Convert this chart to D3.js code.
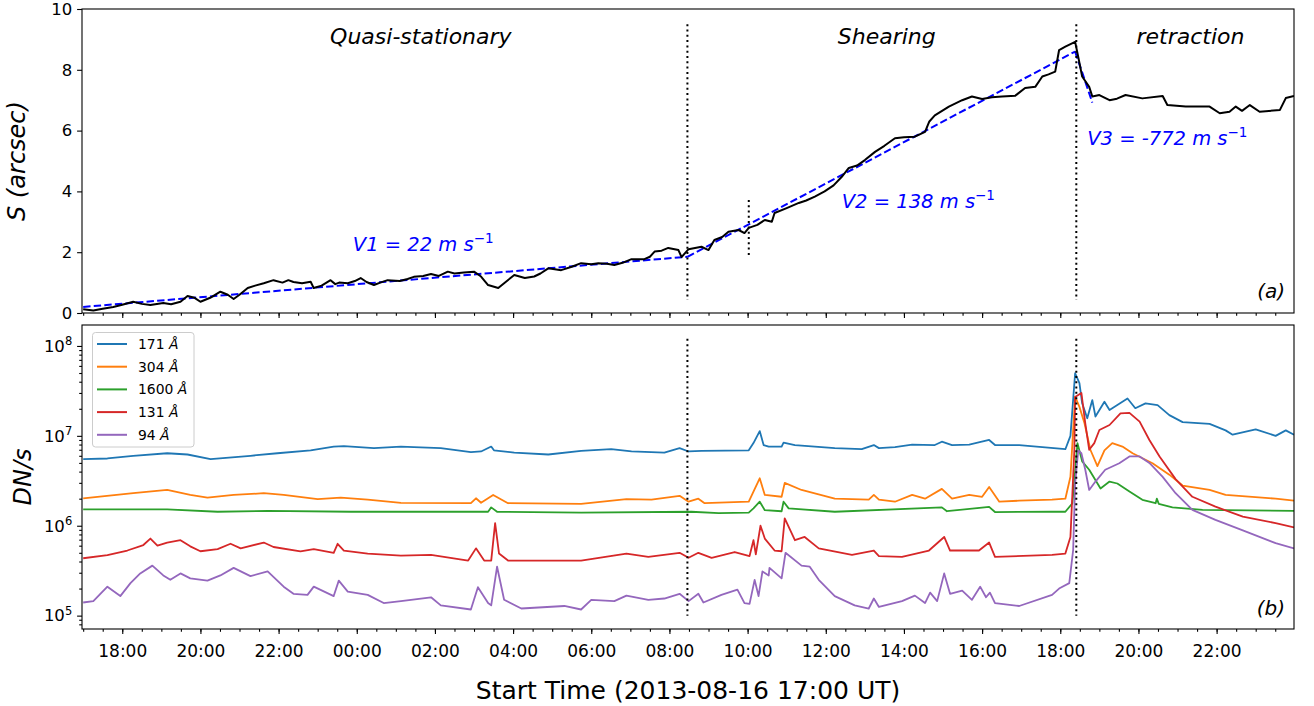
<!DOCTYPE html>
<html>
<head>
<meta charset="utf-8">
<title>Distance and light curves</title>
<style>
  body { margin: 0; background: white; }
  text { font-family: "DejaVu Sans", sans-serif; fill: black; }
  .frame { fill: none; stroke: black; stroke-width: 1.1; }
  .axis path { display: none; }
  .axis line { stroke: black; stroke-width: 1.1; }
  .axis text { font-size: 16.5px; fill: black; font-family: "DejaVu Sans", sans-serif; }
  .xaxis text { font-size: 17px; }
  .series { fill: none; stroke-width: 1.8; stroke-linejoin: round; }
  .sline { fill: none; stroke: black; stroke-width: 2; stroke-linejoin: round; }
  .fit { fill: none; stroke: #0000ff; stroke-width: 2; stroke-dasharray: 7.4 3.2; }
  .event { stroke: black; stroke-width: 2; stroke-dasharray: 2 3.3; }
  .phase { font-size: 22px; font-style: italic; text-anchor: middle; }
  .vel { font-size: 19.5px; font-style: italic; fill: #0000ff; }
  .tag { font-size: 20px; font-style: italic; text-anchor: end; }
  .ylabel { font-size: 24px; font-style: italic; text-anchor: middle; }
  .xlabel { font-size: 25px; text-anchor: middle; }
  .legend text { font-size: 13.9px; }
</style>
<script src="https://d3js.org/d3.v7.min.js"></script>
</head>
<body>
<script>
// time is in hours after 2013-08-16 17:00 UT
const startTime = Date.UTC(2013, 7, 16, 17, 0);
const timeSpan = [-0.03, 30.98];

// panel (a): distance S in arcsec
const sTrack = [[0,0.12],[0.26,0.08],[0.5,0.14],[0.77,0.2],[1.0,0.27],[1.28,0.37],[1.5,0.3],[1.72,0.26],[2.05,0.33],[2.25,0.29],[2.49,0.37],[2.67,0.56],[2.85,0.5],[3.0,0.37],[3.25,0.5],[3.51,0.7],[3.7,0.6],[3.85,0.46],[4.0,0.6],[4.21,0.82],[4.4,0.9],[4.62,0.98],[4.87,1.08],[5.1,1.0],[5.25,1.08],[5.38,1.02],[5.6,0.98],[5.82,1.03],[5.9,0.82],[6.1,0.9],[6.33,1.08],[6.45,0.95],[6.55,1.0],[6.77,0.98],[6.95,1.05],[7.1,1.15],[7.25,1.02],[7.44,0.92],[7.6,1.0],[7.79,1.08],[8.1,1.05],[8.3,1.12],[8.46,1.19],[8.7,1.22],[8.9,1.28],[9.1,1.22],[9.33,1.36],[9.5,1.3],[9.74,1.33],[10.0,1.36],[10.18,1.2],[10.36,0.92],[10.62,0.82],[10.77,0.98],[11.03,1.25],[11.3,1.15],[11.54,1.2],[11.7,1.3],[11.9,1.47],[12.23,1.41],[12.5,1.52],[12.74,1.64],[13.0,1.6],[13.18,1.64],[13.4,1.62],[13.59,1.58],[13.8,1.65],[14.03,1.77],[14.36,1.77],[14.5,1.85],[14.62,2.02],[14.8,2.05],[14.97,2.14],[15.23,2.07],[15.31,1.84],[15.49,2.1],[15.82,2.18],[16.0,2.07],[16.15,2.4],[16.35,2.5],[16.51,2.67],[16.77,2.73],[16.92,2.63],[17.03,2.8],[17.25,2.9],[17.44,3.06],[17.62,3.0],[17.69,3.29],[18.0,3.45],[18.31,3.62],[18.5,3.7],[18.72,3.83],[18.97,4.0],[19.2,4.2],[19.41,4.48],[19.59,4.77],[19.8,4.85],[20.0,5.03],[20.26,5.3],[20.5,5.5],[20.77,5.75],[21.0,5.78],[21.28,5.8],[21.54,5.96],[21.65,6.3],[21.79,6.5],[22.15,6.79],[22.49,7.0],[22.74,7.12],[23.0,7.04],[23.25,7.1],[23.51,7.12],[23.85,7.15],[24.1,7.4],[24.36,7.44],[24.54,7.78],[24.7,7.85],[24.87,7.94],[24.97,8.65],[25.13,8.76],[25.38,8.92],[25.44,8.55],[25.56,7.78],[25.74,7.44],[25.82,7.12],[26.0,7.17],[26.26,7.0],[26.45,7.05],[26.67,7.17],[27.1,7.06],[27.62,7.14],[27.74,6.84],[28.21,6.79],[28.82,6.79],[29.08,6.57],[29.33,6.62],[29.49,6.79],[29.65,6.65],[29.85,6.84],[30.1,6.62],[30.62,6.68],[30.77,7.07],[30.98,7.14]];

// linear fits, [hours, S] end points
const fitSegments = [
  [[0, 0.2], [15.46, 1.85]],
  [[15.46, 1.85], [25.38, 8.6]],
  [[25.38, 8.6], [25.82, 6.92]]
];
const velocityLabels = ["V1 = 22 m s", "V2 = 138 m s", "V3 = -772 m s"];
const velocityAnchors = [[6.9, 2.04], [19.41, 3.45], [25.69, 5.53]];
const phaseLabels = ["Quasi-stationary", "Shearing", "retraction"];
const phaseAnchors = [[8.64, 8.85], [20.56, 8.85], [28.33, 8.85]];

// dotted event markers
const eventHours = [15.46, 25.41];
const eventRangeS = [0.43, 9.5];
const eventRangeDN = [1e5, 1.2e8];
const minorEventHour = 17.03;
const minorEventRangeS = [1.81, 3.72];

// panel (b): light curves in DN/s
const channels = ["171", "304", "1600", "131", "94"];
const channelColors = ["#1f77b4", "#ff7f0e", "#2ca02c", "#d62728", "#9467bd"];

const c171 = [[0,5.5e6],[0.62,5.6e6],[1.28,6.0e6],[2.15,6.4e6],[2.67,6.2e6],[3.26,5.5e6],[4.28,6.0e6],[4.97,6.4e6],[5.82,6.9e6],[6.41,7.6e6],[6.67,7.7e6],[7.44,7.3e6],[8.13,7.6e6],[8.46,7.5e6],[9.15,7.3e6],[9.92,6.6e6],[10.18,6.7e6],[10.44,7.6e6],[10.51,6.9e6],[11.03,6.5e6],[11.9,6.2e6],[12.74,6.8e6],[13.51,7.1e6],[14.03,6.7e6],[14.87,6.5e6],[15.26,7.3e6],[15.49,6.7e6],[15.82,6.8e6],[17.03,6.9e6],[17.15,8.3e6],[17.31,1.13e7],[17.41,7.9e6],[17.54,7.6e6],[17.87,7.6e6],[17.92,8.4e6],[18.21,7.9e6],[19.23,7.3e6],[19.92,7.1e6],[20.23,7.9e6],[20.36,7.3e6],[20.77,7.5e6],[21.21,8.0e6],[21.79,7.9e6],[21.97,8.6e6],[22.23,7.9e6],[22.67,8.0e6],[23.18,9.0e6],[23.33,7.9e6],[23.95,7.9e6],[24.54,7.5e6],[25.13,7.1e6],[25.26,1.0e7],[25.38,4.97e7],[25.49,3.85e7],[25.56,2.3e7],[25.69,1.57e7],[25.82,2.5e7],[25.9,1.64e7],[26.13,2.4e7],[26.26,1.94e7],[26.72,2.6e7],[26.92,2.03e7],[27.18,2.3e7],[27.49,2.2e7],[27.79,1.7e7],[28.13,1.42e7],[28.82,1.36e7],[29.23,1.15e7],[29.41,1.03e7],[30.0,1.18e7],[30.51,1.0e7],[30.77,1.15e7],[30.98,1.03e7]];

const c304 = [[0,2.02e6],[1.28,2.3e6],[2.15,2.5e6],[2.74,2.2e6],[3.18,2.05e6],[3.85,2.2e6],[4.62,2.3e6],[5.13,2.2e6],[6.0,1.98e6],[6.59,2.05e6],[7.28,1.95e6],[8.13,1.8e6],[9.92,1.78e6],[10.05,2.02e6],[10.18,1.8e6],[10.49,2.2e6],[10.87,1.78e6],[12.74,1.75e6],[13.9,1.98e6],[14.54,1.95e6],[15.26,2.15e6],[15.49,1.85e6],[15.74,2.0e6],[15.9,1.78e6],[17.03,1.85e6],[17.15,2.4e6],[17.31,3.37e6],[17.44,2.2e6],[17.87,2.1e6],[17.95,3.0e6],[18.38,2.5e6],[19.23,2.0e6],[20.1,1.95e6],[20.23,2.2e6],[20.36,1.95e6],[20.77,1.85e6],[21.21,2.2e6],[21.54,2.0e6],[21.97,2.57e6],[22.23,2.0e6],[22.67,2.2e6],[23.0,2.1e6],[23.18,2.7e6],[23.44,1.85e6],[23.95,1.9e6],[24.79,1.95e6],[25.13,2.0e6],[25.26,3.5e6],[25.38,2.73e7],[25.49,2.1e7],[25.62,1.38e7],[25.77,7.0e6],[25.95,4.6e6],[26.13,6.9e6],[26.33,8.3e6],[26.59,7.6e6],[26.85,6.4e6],[27.36,4.96e6],[27.79,3.7e6],[28.13,2.8e6],[28.82,2.5e6],[29.23,2.2e6],[30.51,2.0e6],[30.98,1.9e6]];

const c1600 = [[0,1.52e6],[2.15,1.52e6],[3.44,1.43e6],[4.72,1.46e6],[6.85,1.43e6],[8.13,1.43e6],[10.36,1.43e6],[10.44,1.6e6],[10.59,1.43e6],[12.74,1.4e6],[15.56,1.43e6],[16.26,1.38e6],[17.03,1.4e6],[17.15,1.56e6],[17.31,1.85e6],[17.44,1.49e6],[17.87,1.45e6],[17.92,1.85e6],[18.05,1.56e6],[19.23,1.43e6],[21.97,1.6e6],[22.1,1.45e6],[23.18,1.62e6],[23.33,1.42e6],[24.79,1.43e6],[25.13,1.43e6],[25.31,1.78e6],[25.44,8.3e6],[25.56,5.2e6],[25.74,4.2e6],[26.03,2.6e6],[26.26,3.1e6],[26.46,2.95e6],[26.77,2.4e6],[27.1,1.94e6],[27.44,1.78e6],[27.47,2.0e6],[27.52,1.75e6],[27.87,1.6e6],[28.64,1.5e6],[30.98,1.46e6]];

const c131 = [[0,4.35e5],[0.62,4.7e5],[1.13,5.3e5],[1.54,6.1e5],[1.72,7.2e5],[1.9,6.0e5],[2.15,6.5e5],[2.49,6.9e5],[2.74,5.9e5],[3.0,5.2e5],[3.44,5.5e5],[3.77,6.3e5],[4.03,5.6e5],[4.62,6.5e5],[4.87,5.8e5],[5.56,5.2e5],[5.9,5.5e5],[6.41,5.0e5],[6.51,6.3e5],[6.67,5.3e5],[7.28,4.9e5],[8.13,4.65e5],[8.9,4.75e5],[9.85,4.1e5],[10.05,5.6e5],[10.26,4.1e5],[10.44,4.1e5],[10.54,1.07e6],[10.64,4.9e5],[10.87,4.1e5],[12.74,4.1e5],[13.9,4.9e5],[14.46,4.5e5],[15.26,5.0e5],[15.49,4.4e5],[15.74,5.0e5],[16.08,4.4e5],[16.67,5.1e5],[17.05,4.6e5],[17.15,6.9e5],[17.21,4.8e5],[17.33,1.0e6],[17.44,7.2e5],[17.69,5.3e5],[17.87,5.2e5],[17.95,1.21e6],[18.21,6.9e5],[18.46,7.5e5],[18.82,5.6e5],[19.67,4.75e5],[20.23,5.3e5],[20.36,4.6e5],[20.95,4.5e5],[21.64,5.3e5],[22.03,7.5e5],[22.18,5.3e5],[22.92,5.3e5],[23.18,6.5e5],[23.33,4.5e5],[24.79,4.75e5],[25.13,4.9e5],[25.26,7.5e5],[25.36,6.9e6],[25.38,2.7e7],[25.54,3.0e7],[25.64,1.38e7],[25.74,7.0e6],[25.87,8.3e6],[26.0,1.16e7],[26.26,1.32e7],[26.54,1.78e7],[26.77,1.8e7],[27.03,1.44e7],[27.28,9.0e6],[27.54,5.9e6],[27.95,3.3e6],[28.38,2.1e6],[28.97,1.63e6],[29.67,1.26e6],[30.51,1.07e6],[30.98,9.6e5]];

const c94 = [[0,1.4e5],[0.26,1.45e5],[0.62,2.1e5],[0.95,1.65e5],[1.21,2.3e5],[1.46,2.95e5],[1.77,3.6e5],[2.05,2.8e5],[2.23,2.5e5],[2.49,2.95e5],[2.74,2.6e5],[3.18,2.45e5],[3.51,2.8e5],[3.85,3.4e5],[4.28,2.75e5],[4.72,3.1e5],[5.13,2.1e5],[5.38,1.75e5],[5.74,1.7e5],[5.9,2.1e5],[6.41,1.65e5],[6.54,2.45e5],[6.77,1.85e5],[7.28,1.7e5],[7.69,1.38e5],[8.13,1.45e5],[8.9,1.6e5],[9.15,1.3e5],[9.92,1.17e5],[10.1,2.07e5],[10.36,1.38e5],[10.44,1.3e5],[10.59,3.5e5],[10.77,1.5e5],[11.21,1.2e5],[12.31,1.28e5],[12.74,1.17e5],[13.0,1.5e5],[13.59,1.45e5],[13.9,1.67e5],[14.46,1.5e5],[14.87,1.55e5],[15.26,1.75e5],[15.49,1.45e5],[15.74,1.75e5],[15.87,1.4e5],[16.33,1.7e5],[16.74,1.95e5],[16.92,1.38e5],[17.05,1.35e5],[17.18,2.5e5],[17.28,1.65e5],[17.38,3.1e5],[17.54,2.8e5],[17.56,3.4e5],[17.87,2.6e5],[17.97,5.0e5],[18.38,3.6e5],[18.59,3.5e5],[18.82,2.5e5],[19.23,1.65e5],[19.74,1.3e5],[20.1,1.2e5],[20.23,1.55e5],[20.36,1.25e5],[20.95,1.45e5],[21.28,1.67e5],[21.54,1.38e5],[21.67,1.8e5],[21.85,1.45e5],[22.03,2.95e5],[22.18,1.75e5],[22.49,1.9e5],[22.74,1.5e5],[22.95,2.1e5],[23.1,1.6e5],[23.2,1.8e5],[23.33,1.38e5],[23.95,1.28e5],[24.79,1.7e5],[24.97,2.0e5],[25.23,2.3e5],[25.33,5.4e5],[25.38,2.97e6],[25.46,6.9e6],[25.54,6.4e6],[25.64,4.2e6],[25.74,2.5e6],[25.9,3.1e6],[26.15,4.2e6],[26.51,4.96e6],[26.77,5.9e6],[27.03,5.9e6],[27.28,5.0e6],[27.62,3.5e6],[27.95,2.3e6],[28.38,1.5e6],[28.97,1.16e6],[29.67,8.9e5],[30.51,6.4e5],[30.98,5.6e5]];

const channelSeries = [c171, c304, c1600, c131, c94];

const sTicks = [0, 2, 4, 6, 8, 10];
const dnTicks = [1e5, 1e6, 1e7, 1e8];

const width = 1314, height = 706;
const left = 82, right = 1294;
const panelA = { top: 9, bottom: 313 };
const panelB = { top: 325, bottom: 629 };

const toDate = h => new Date(startTime + h * 3600e3);

const svg = d3.select('body').append('svg')
  .attr('width', width).attr('height', height);

const x = d3.scaleUtc()
  .domain(timeSpan.map(toDate))
  .range([left, right]);

const yA = d3.scaleLinear().domain([0, 10]).range([panelA.bottom, panelA.top]);
const yB = d3.scaleLog().domain([7.1e4, 1.71e8]).range([panelB.bottom, panelB.top]);

svg.append('defs').call(d => {
  d.append('clipPath').attr('id', 'clipA').append('rect')
    .attr('x', left).attr('y', panelA.top).attr('width', right - left).attr('height', panelA.bottom - panelA.top);
  d.append('clipPath').attr('id', 'clipB').append('rect')
    .attr('x', left).attr('y', panelB.top).attr('width', right - left).attr('height', panelB.bottom - panelB.top);
});

// x axes for both panels
function drawTimeAxis(yPos, labels) {
  svg.append('g').attr('class', 'axis')
    .attr('transform', `translate(0,${yPos})`)
    .call(d3.axisBottom(x).ticks(d3.utcMinute.every(30)).tickSize(2.8).tickFormat(''));
  svg.append('g').attr('class', 'axis xaxis')
    .attr('transform', `translate(0,${yPos})`)
    .call(d3.axisBottom(x).ticks(d3.utcHour.every(2)).tickSize(4.9).tickPadding(11)
      .tickFormat(labels ? d3.utcFormat('%H:%M') : ''));
}
drawTimeAxis(panelA.bottom, false);
drawTimeAxis(panelB.bottom, true);

// panel (a) y axis
svg.append('g').attr('class', 'axis')
  .attr('transform', `translate(${left},0)`)
  .call(d3.axisLeft(yA).tickValues(sTicks).tickSize(4.9).tickPadding(4.9));

// panel (b) log axis
const minorDN = [];
[1e4, 1e5, 1e6, 1e7, 1e8].forEach(dec => {
  for (let k = 2; k <= 9; k++) {
    const v = dec * k;
    if (v > yB.domain()[0] && v < yB.domain()[1]) minorDN.push(v);
  }
});
svg.append('g').attr('class', 'axis')
  .attr('transform', `translate(${left},0)`)
  .call(d3.axisLeft(yB).tickValues(minorDN).tickSize(2.8).tickFormat(''));
const gB = svg.append('g').attr('class', 'axis')
  .attr('transform', `translate(${left},0)`)
  .call(d3.axisLeft(yB).tickValues(dnTicks).tickSize(4.9).tickPadding(4.9).tickFormat(''));
gB.selectAll('.tick text').each(function(d) {
  const t = d3.select(this);
  t.append('tspan').text('10');
  t.append('tspan').attr('dy', '-0.55em').attr('font-size', '11.5px').text(Math.round(Math.log10(d)));
});

// panel (a) content
const gA = svg.append('g').attr('clip-path', 'url(#clipA)');
const lineA = d3.line().x(d => x(toDate(d[0]))).y(d => yA(d[1]));

gA.selectAll('.fit').data(fitSegments).enter().append('path')
  .attr('class', 'fit').attr('d', lineA);
gA.append('path').datum(sTrack).attr('class', 'sline').attr('d', lineA);

eventHours.forEach(h => {
  gA.append('line').attr('class', 'event')
    .attr('x1', x(toDate(h))).attr('x2', x(toDate(h)))
    .attr('y1', yA(eventRangeS[1])).attr('y2', yA(eventRangeS[0]));
});
gA.append('line').attr('class', 'event')
  .attr('x1', x(toDate(minorEventHour))).attr('x2', x(toDate(minorEventHour)))
  .attr('y1', yA(minorEventRangeS[1])).attr('y2', yA(minorEventRangeS[0]));

phaseLabels.forEach((label, i) => {
  svg.append('text').attr('class', 'phase')
    .attr('x', x(toDate(phaseAnchors[i][0]))).attr('y', yA(phaseAnchors[i][1]))
    .text(label);
});
velocityLabels.forEach((label, i) => {
  const t = svg.append('text').attr('class', 'vel')
    .attr('x', x(toDate(velocityAnchors[i][0]))).attr('y', yA(velocityAnchors[i][1]));
  t.append('tspan').text(label);
  t.append('tspan').attr('dy', '-0.6em').attr('font-size', '13.5px').attr('font-style', 'normal').text('\u22121');
});

svg.append('text').attr('class', 'tag')
  .attr('x', right - 9).attr('y', panelA.bottom - 15).text('(a)');

// panel (b) content
const gBc = svg.append('g').attr('clip-path', 'url(#clipB)');
const lineB = d3.line().x(d => x(toDate(d[0]))).y(d => yB(d[1]));

channelSeries.forEach((series, i) => {
  gBc.append('path').datum(series).attr('class', 'series')
    .attr('stroke', channelColors[i]).attr('d', lineB);
});
eventHours.forEach(h => {
  gBc.append('line').attr('class', 'event')
    .attr('x1', x(toDate(h))).attr('x2', x(toDate(h)))
    .attr('y1', yB(eventRangeDN[1])).attr('y2', yB(eventRangeDN[0]));
});

svg.append('text').attr('class', 'tag')
  .attr('x', right - 9).attr('y', panelB.bottom - 14).text('(b)');

// legend
const legend = svg.append('g').attr('class', 'legend');
legend.append('rect')
  .attr('x', left + 10.5).attr('y', panelB.top + 7.5)
  .attr('width', 101.5).attr('height', 114.5)
  .attr('rx', 3).attr('fill', 'white').attr('fill-opacity', 0.8)
  .attr('stroke', '#cccccc').attr('stroke-width', 1);
channels.forEach((ch, i) => {
  const yy = panelB.top + 19 + i * 22.7;
  legend.append('line')
    .attr('x1', left + 15).attr('x2', left + 45)
    .attr('y1', yy).attr('y2', yy)
    .attr('stroke', channelColors[i]).attr('stroke-width', 2);
  const t = legend.append('text').attr('x', left + 56).attr('y', yy + 5);
  t.append('tspan').text(ch + ' ');
  t.append('tspan').attr('font-style', 'italic').text('\u00c5');
});

// frames
[panelA, panelB].forEach(p => {
  svg.append('rect').attr('class', 'frame')
    .attr('x', left).attr('y', p.top)
    .attr('width', right - left).attr('height', p.bottom - p.top);
});

// axis labels
svg.append('text').attr('class', 'ylabel')
  .attr('transform', `translate(25,${(panelA.top + panelA.bottom) / 2}) rotate(-90)`)
  .text('S (arcsec)');
svg.append('text').attr('class', 'ylabel')
  .attr('transform', `translate(31,${(panelB.top + panelB.bottom) / 2}) rotate(-90)`)
  .text('DN/s');
svg.append('text').attr('class', 'xlabel')
  .attr('x', (left + right) / 2).attr('y', 699)
  .text('Start Time (2013-08-16 17:00 UT)');
</script>
</body>
</html>
